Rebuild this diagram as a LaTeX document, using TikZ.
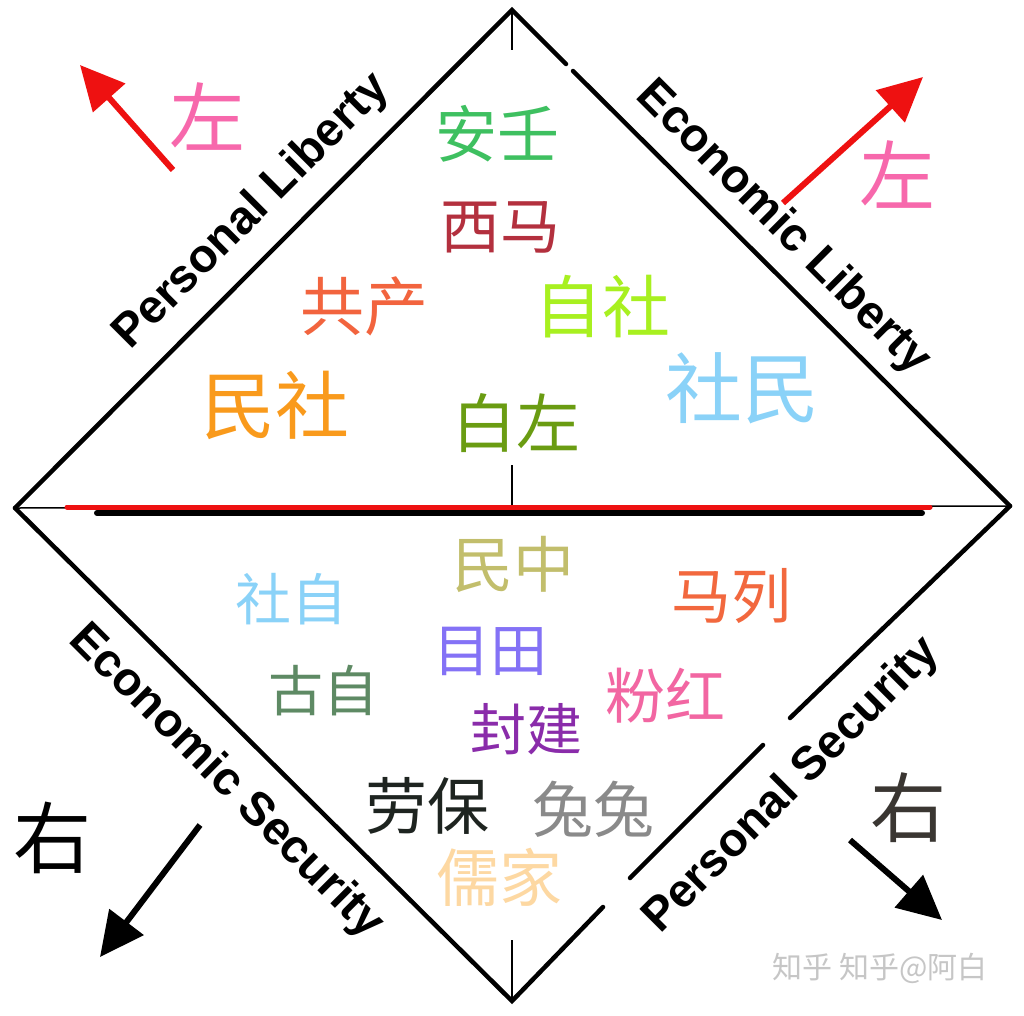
\documentclass[tikz,border=0pt]{standalone}
\usepackage{fontspec}
\setmainfont{Liberation Sans}
\newfontfamily\cjk{Noto Sans CJK SC}
\usetikzlibrary{arrows.meta}
\definecolor{redline}{HTML}{EE1111}
\definecolor{leftpink}{HTML}{F768AC}
\definecolor{rightgray}{HTML}{3A3632}
\definecolor{anren}{HTML}{3EC060}
\definecolor{xima}{HTML}{B3303E}
\definecolor{gongchan}{HTML}{F2643E}
\definecolor{zishe}{HTML}{A8F020}
\definecolor{minshe}{HTML}{F99A1C}
\definecolor{baizuo}{HTML}{6A9C12}
\definecolor{shemin}{HTML}{8AD2F8}
\definecolor{minzhong}{HTML}{C2BE6C}
\definecolor{malie}{HTML}{F2683E}
\definecolor{shezi}{HTML}{8AD2F8}
\definecolor{mutian}{HTML}{8472F6}
\definecolor{guzi}{HTML}{5E8A64}
\definecolor{fenhong}{HTML}{F266A2}
\definecolor{fengjian}{HTML}{8A2CAA}
\definecolor{laobao}{HTML}{1E2420}
\definecolor{tutu}{HTML}{8A8A8A}
\definecolor{rujia}{HTML}{FDD8A2}

\begin{document}
\begin{tikzpicture}[x=1pt, y=-1pt,
    edge/.style={line width=4.5pt, line cap=round, line join=miter},
    tick/.style={line width=1.5pt},
    rim/.style={font=\fontsize{47}{47}\selectfont\bfseries, inner sep=0pt},
    tag/.style={font=\cjk\fontsize{#1}{#1}\selectfont, inner sep=0pt},
    tag/.default=60,
    dir/.style={line width=6pt, -{Triangle[length=44pt, width=42pt]}},
]
  \useasboundingbox[fill=white] (0,0) rectangle (1024,1015);

  % corners of the diamond
  \coordinate (top) at (512,10);
  \coordinate (left) at (15,508);
  \coordinate (right) at (1010,506);
  \coordinate (bot) at (512,1001);

  \draw[edge] (left) -- (top) -- (566,64);
  \draw[edge] (573,71) -- (right);
  \draw[edge] (left) -- (bot) -- (603,907);
  \draw[edge] (630,878) -- (763,745);
  \draw[edge] (790,718) -- (right);

  % middle axis
  \draw[tick] (left) -- (right);
  \draw[tick] (top) -- (512,50);
  \draw[tick] (512,465) -- (512,505);
  \draw[tick] (512,940) -- (bot);
  \coordinate (r1) at (67,507);
  \coordinate (r2) at (930,507);
  \coordinate (b1) at (97,513);
  \coordinate (b2) at (922,513);
  \draw[line width=6pt, line cap=round] (b1) -- (b2);
  \draw[line width=5pt, line cap=round, redline] (r1) -- (r2);

  % edge labels
  \node[rim, rotate=45] (pl) at (252,212) {Personal Liberty};
  \node[rim, rotate=-45] (el) at (783,228) {Economic Liberty};
  \node[rim, rotate=-45] (es) at (226,782) {Economic Security};
  \node[rim, rotate=45] (ps) at (792,786) {Personal Security};

  % corner arrows
  \coordinate (a1) at (173,170);
  \coordinate (t1) at (80,65);
  \coordinate (a2) at (783,203);
  \coordinate (t2) at (923,77);
  \coordinate (a3) at (200,825);
  \coordinate (t3) at (100,957);
  \coordinate (a4) at (850,840);
  \coordinate (t4) at (942,920);
  \draw[dir, redline] (a1) -- (t1);
  \draw[dir, redline] (a2) -- (t2);
  \draw[dir] (a3) -- (t3);
  \draw[dir] (a4) -- (t4);

  \node[tag=76, text=leftpink] (z1) at (207,117) {左};
  \node[tag=76, text=leftpink] (z2) at (897,175) {左};
  \node[tag=78] (y1) at (52,838) {右};
  \node[tag=76, text=rightgray] (y2) at (908,808) {右};

  % upper half
  \node[tag=62, text=anren] (n1) at (497,134) {安壬};
  \node[tag=60, text=xima] (n2) at (500,227) {西马};
  \node[tag=64, text=gongchan] (n3) at (364,306) {共产};
  \node[tag=68, text=zishe] (n4) at (602,307) {自社};
  \node[tag=74, text=minshe] (n5) at (275,405) {民社};
  \node[tag=64, text=baizuo] (n6) at (516,423) {白左};
  \node[tag=77, text=shemin] (n7) at (742,388) {社民};

  % lower half
  \node[tag=61, text=minzhong] (m1) at (513,564) {民中};
  \node[tag=60, text=malie] (m2) at (731,596) {马列};
  \node[tag=56, text=shezi] (m3) at (291,599) {社自};
  \node[tag=57, text=mutian] (m4) at (490,651) {目田};
  \node[tag=55, text=guzi] (m5) at (323,691) {古自};
  \node[tag=60, text=fenhong] (m6) at (665,696) {粉红};
  \node[tag=56, text=fengjian] (m7) at (526,729) {封建};
  \node[tag=62, text=laobao] (m8) at (427,806) {劳保};
  \node[tag=61, text=tutu] (m9) at (593,809) {兔兔};
  \node[tag=63, text=rujia] (m10) at (499,877) {儒家};

  \node[tag=30, text=gray!45] (wm) at (880,968) {知乎 知乎@阿白};
\end{tikzpicture}
\end{document}
